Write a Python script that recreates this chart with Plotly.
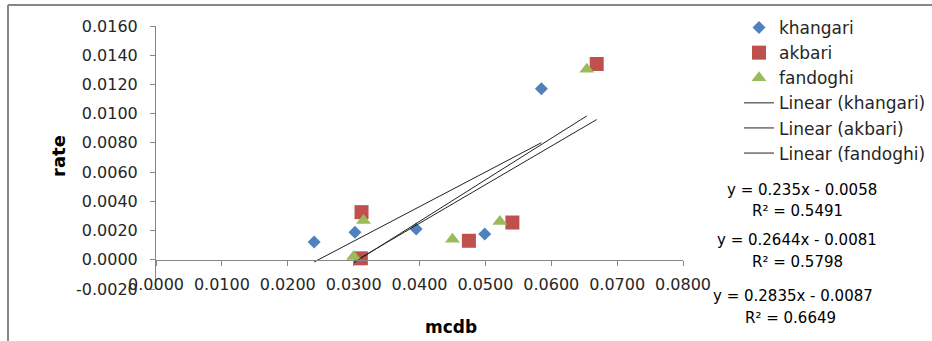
import numpy as np
import plotly.graph_objects as go

# ---- data ----
series_names = ["khangari", "akbari", "fandoghi"]
khangari_x = [0.0240, 0.0302, 0.0395, 0.0499, 0.0585]
khangari_y = [0.00121, 0.00189, 0.00210, 0.00176, 0.01171]
akbari_x = [0.0312, 0.0311, 0.0475, 0.0541, 0.0669]
akbari_y = [0.00326, 0.00010, 0.00130, 0.00255, 0.01340]
fandoghi_x = [0.0315, 0.0300, 0.0450, 0.0522, 0.0654]
fandoghi_y = [0.00269, 0.00023, 0.00141, 0.00262, 0.01304]
equations = ["y = 0.235x - 0.0058", "y = 0.2644x - 0.0081", "y = 0.2835x - 0.0087"]
r_squared = ["R² = 0.5491", "R² = 0.5798", "R² = 0.6649"]
x_ticks = [0.00, 0.01, 0.02, 0.03, 0.04, 0.05, 0.06, 0.07, 0.08]
y_ticks = [-0.002, 0.000, 0.002, 0.004, 0.006, 0.008, 0.010, 0.012, 0.014, 0.016]

# ---- styles ----
W, H = 932, 341
L, R, T, B = 156, 249, 26, 52
PW, PH = W - L - R, H - T - B
colors = ["#4F81BD", "#C0504D", "#9BBB59"]
symbols = ["diamond", "square", "triangle-up"]
sizes = [10, 14, 13]
FONT = "DejaVu Sans"
AX = "#868686"


def px_x(p):
    return (p - L) / PW


def px_y(p):
    return (H - B - p) / PH


xs = [khangari_x, akbari_x, fandoghi_x]
ys = [khangari_y, akbari_y, fandoghi_y]

fig = go.Figure()
for name, x, y, c, s, sz in zip(series_names, xs, ys, colors, symbols, sizes):
    fig.add_trace(go.Scatter(x=x, y=y, mode="markers", name=name,
                             marker=dict(color=c, symbol=s, size=sz, line=dict(width=0))))
for name, x, y in zip(series_names, xs, ys):
    k, b = np.polyfit(x, y, 1)
    lx = np.array([min(x), max(x)])
    fig.add_trace(go.Scatter(x=lx, y=k * lx + b, mode="lines", name=f"Linear ({name})",
                             line=dict(color="#222222", width=1)))

ymin, ymax = y_ticks[0], y_ticks[-1]
fig.update_layout(
    width=W, height=H,
    margin=dict(l=L, r=R, t=T, b=B, autoexpand=False),
    paper_bgcolor="white", plot_bgcolor="white",
    font=dict(family=FONT, size=16, color="#262626"),
    showlegend=True,
    legend=dict(x=px_x(739), y=px_y(10), xanchor="left", yanchor="top",
                bgcolor="rgba(0,0,0,0)", font=dict(family=FONT, size=17, color="#262626"),
                itemwidth=30, tracegroupgap=0),
    xaxis=dict(range=[x_ticks[0], x_ticks[-1]], tickvals=x_ticks,
               ticktext=[f"{v:.4f}" for v in x_ticks],
               anchor="free", position=(0 - ymin) / (ymax - ymin),
               showline=True, linecolor=AX, linewidth=1,
               ticks="outside", ticklen=5, tickcolor=AX,
               ticklabelstandoff=5,
               showgrid=False, zeroline=False,
               tickfont=dict(family=FONT, size=16, color="#262626")),
    yaxis=dict(range=[ymin, ymax], tickvals=y_ticks,
               ticktext=[f"{v:.4f}" for v in y_ticks],
               showline=True, linecolor=AX, linewidth=1,
               ticks="outside", ticklen=5, tickcolor=AX,
               ticklabelstandoff=9,
               showgrid=False, zeroline=False,
               tickfont=dict(family=FONT, size=16, color="#262626")),
)

# axis titles
fig.add_annotation(text="<b>rate</b>", x=px_x(58), y=px_y(156), xref="paper", yref="paper",
                   xanchor="center", yanchor="middle",
                   showarrow=False, textangle=-90, font=dict(family=FONT, size=18, color="#000"))
fig.add_annotation(text="<b>mcdb</b>", x=px_x(451), y=px_y(327), xref="paper", yref="paper",
                   xanchor="center", yanchor="middle",
                   showarrow=False, font=dict(family=FONT, size=17, color="#000"))

# trendline equations
eq_pos = [(802, 190), (797, 240), (793, 296)]
r2_pos = [(797, 211), (797, 262), (790, 318)]
for e, r, (ex, ey), (rx, ry) in zip(equations, r_squared, eq_pos, r2_pos):
    fig.add_annotation(text=e, x=px_x(ex), y=px_y(ey), xref="paper", yref="paper",
                       xanchor="center", yanchor="middle",
                       showarrow=False, font=dict(family=FONT, size=15, color="#000"))
    fig.add_annotation(text=r, x=px_x(rx), y=px_y(ry), xref="paper", yref="paper",
                       xanchor="center", yanchor="middle",
                       showarrow=False, font=dict(family=FONT, size=15, color="#000"))

# chart frame (left and top edges visible in the crop)
fig.add_shape(type="line", xref="paper", yref="paper", x0=px_x(8), x1=px_x(W + 5),
              y0=px_y(5), y1=px_y(5), line=dict(color=AX, width=2))
fig.add_shape(type="line", xref="paper", yref="paper", x0=px_x(8), x1=px_x(8),
              y0=px_y(5), y1=px_y(H + 5), line=dict(color=AX, width=2))

fig.write_html("out.html")
